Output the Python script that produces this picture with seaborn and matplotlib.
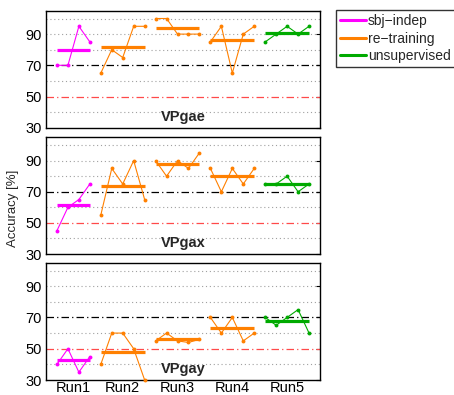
import numpy as np
import pandas as pd
import matplotlib
matplotlib.use('Agg')
import matplotlib.pyplot as plt
from matplotlib.lines import Line2D
import seaborn as sns

# --- data ---
RUNS = ['Run1', 'Run2', 'Run3', 'Run4', 'Run5']
RUN_METHOD = ['sbj\u2212indep', 're\u2212training', 're\u2212training', 're\u2212training', 'unsupervised']
METHODS = ['sbj\u2212indep', 're\u2212training', 'unsupervised']
PANELS = ['VPgae', 'VPgax', 'VPgay']

VPGAE = [[70, 70, 95, 85], [65, 80, 75, 95, 95], [100, 100, 90, 90, 90],
         [85, 95, 65, 90, 95], [85, 90, 95, 90, 95]]
VPGAX = [[45, 60, 65, 75], [55, 85, 75, 90, 65], [90, 80, 90, 85, 95],
         [85, 70, 85, 75, 85], [75, 75, 80, 70, 75]]
VPGAY = [[40, 50, 35, 45], [40, 60, 60, 50, 30], [55, 60, 55, 54, 56],
         [70, 60, 70, 55, 60], [70, 65, 70, 75, 60]]

COLORS = {'sbj\u2212indep': '#FF00FF', 're\u2212training': '#FF8000', 'unsupervised': '#00AA00'}


def build_frame(panel_name, values):
    rows = []
    pos = 0
    for run, method, vals in zip(RUNS, RUN_METHOD, values):
        for v in vals:
            rows.append({'panel': panel_name, 'run': run, 'method': method, 'x': pos, 'acc': v})
            pos += 1
    return pd.DataFrame(rows)


df = pd.concat([build_frame(p, v) for p, v in zip(PANELS, [VPGAE, VPGAX, VPGAY])], ignore_index=True)

# --- plot ---
sns.set_style('white')
plt.rcParams['font.family'] = ['Liberation Sans', 'DejaVu Sans']

fig = plt.figure(figsize=(4.54, 3.95), dpi=100)
W, H = 454, 395
boxes = [(10.7, 127.7), (137.3, 254), (262.7, 380)]
axes = []
for top, bottom in boxes:
    ax = fig.add_axes([46 / W, 1 - bottom / H, (320 - 46) / W, (bottom - top) / H])
    axes.append(ax)

tick_pos = df[df.panel == 'VPgae'].groupby('run')['x'].mean().reindex(RUNS).values

for ax, panel in zip(axes, PANELS):
    sub = df[df.panel == panel]
    # reference lines
    for g in [40, 60, 80, 90, 100]:
        ax.axhline(g, color='#A0A0A0', lw=0.8, ls=(0, (1, 2.5)), zorder=0)
    ax.axhline(70, color='black', lw=0.9, ls=(0, (6, 2.5, 1, 2.5)), zorder=1)
    ax.axhline(50, color='#FF4A4A', lw=0.9, ls=(0, (6, 2.5, 1, 2.5)), zorder=1)

    for run in RUNS:
        seg = sub[sub.run == run]
        c = COLORS[seg.method.iloc[0]]
        sns.lineplot(data=seg, x='x', y='acc', color=c, lw=0.8, marker='o',
                     markersize=2.8, markeredgewidth=0, ax=ax, clip_on=False, zorder=3)
        m = seg.acc.mean()
        ax.hlines(m, seg.x.min(), seg.x.max(), color=c, lw=2.3, zorder=4)

    ax.set_xlim(-1, 24)
    ax.set_ylim(30, 105)
    ax.set_yticks([30, 50, 70, 90])
    ax.set_xticks(tick_pos)
    ax.set_xticklabels(RUNS if panel == 'VPgay' else [])
    ax.set_xlabel('')
    ax.set_ylabel('')
    ax.tick_params(direction='in', length=3, width=0.8, top=True, right=True,
                   labelsize=10.5, pad=3, colors='black')
    ax.tick_params(axis='x', length=0, pad=1)
    for s in ax.spines.values():
        s.set_edgecolor('black')
        s.set_linewidth(1.0)
    ax.text(0.5, 0.035, panel, transform=ax.transAxes, ha='center', va='bottom',
            fontsize=10.5, fontweight='bold')

axes[1].set_ylabel('Accuracy [%]', fontsize=9.5)
axes[1].yaxis.set_label_coords(-0.098, 0.39)

handles = [Line2D([0], [0], color=COLORS[m], lw=2.2) for m in METHODS]
leg = fig.legend(handles, METHODS, loc='upper left', bbox_to_anchor=(336 / W, 1 - 10 / H),
                 fontsize=10, frameon=True, fancybox=False, handlelength=1.85,
                 handletextpad=0.15, borderpad=0.3, labelspacing=0.25, borderaxespad=0)
leg.get_frame().set_edgecolor('black')
leg.get_frame().set_linewidth(1.0)

fig.savefig('out.png', dpi=100)
